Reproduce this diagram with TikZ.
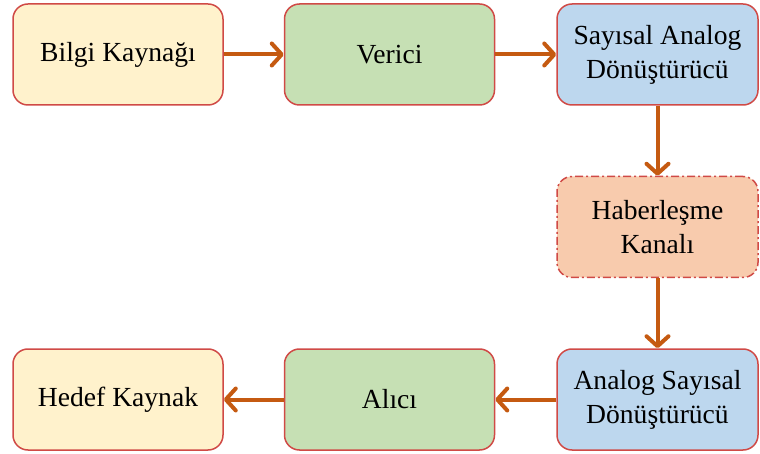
\documentclass[tikz,border=0pt]{standalone}
\usepackage{fontspec}
\setmainfont{Liberation Serif}
\usetikzlibrary{arrows.meta}
\definecolor{edgered}{HTML}{D04A46}
\definecolor{flowarrow}{HTML}{C55A11}
\definecolor{creamfill}{HTML}{FFF2CC}
\definecolor{greenfill}{HTML}{C6E0B4}
\definecolor{bluefill}{HTML}{BDD7EE}
\definecolor{salmonfill}{HTML}{F8CBAD}
\tikzset{
  block/.style={draw=edgered, line width=0.75pt, rounded corners=7.5pt,
    minimum height=50.5pt, align=center, inner sep=2pt,
    font=\fontsize{13.8}{17}\selectfont},
  widebox/.style={block, minimum width=105pt},
  narrowbox/.style={block, minimum width=100.5pt},
  channelbox/.style={narrowbox, dash pattern=on 4pt off 1.5pt on 1pt off 1.5pt},
  flow/.style={draw=flowarrow, line width=2pt,
    -{Straight Barb[length=5pt,width=11pt,line cap=round,line join=round]}}
}
\begin{document}
\begin{tikzpicture}[x=0.5pt,y=-0.5pt]
  \useasboundingbox (0,0) rectangle (760,454);
  % top row
  \node[widebox, fill=creamfill] (src) at (118,54.5) {Bilgi Kaynağı};
  \node[widebox, fill=greenfill] (tx) at (389.5,54.5) {Verici};
  \node[narrowbox, fill=bluefill] (dac) at (657.5,54.5) {Sayısal Analog\\Dönüştürücü};
  % channel
  \node[channelbox, fill=salmonfill] (ch) at (657.5,227) {Haberleşme\\Kanalı};
  % bottom row
  \node[narrowbox, fill=bluefill] (adc) at (657.5,399.5) {Analog Sayısal\\Dönüştürücü};
  \node[widebox, fill=greenfill] (rx) at (389.5,399.5) {Alıcı};
  \node[widebox, fill=creamfill] (dst) at (118,399.5) {Hedef Kaynak};
  % signal path
  \draw[flow] (src) -- (tx);
  \draw[flow] (tx) -- (dac);
  \draw[flow] (dac) -- (ch);
  \draw[flow] (ch) -- (adc);
  \draw[flow] (adc) -- (rx);
  \draw[flow] (rx) -- (dst);
\end{tikzpicture}
\end{document}
